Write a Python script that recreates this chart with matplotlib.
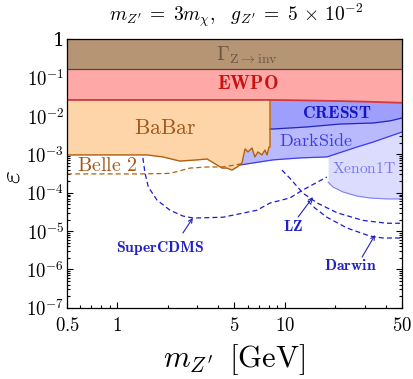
import numpy as np
from matplotlib import pyplot as plt
from matplotlib.ticker import FixedLocator, NullFormatter

plt.rcParams['mathtext.fontset'] = 'cm'
plt.rcParams['font.family'] = 'serif'
plt.rcParams['font.serif'] = ['DejaVu Serif']

# --- limits (epsilon vs m_Z' in GeV) ---
m_range = [0.5, 50.0]
gamma_eps = 0.167

ewpo_m = [0.5, 8.0, 12.0, 20.0, 30.0, 50.0]
ewpo_eps = [0.0264, 0.0264, 0.0258, 0.0248, 0.0238, 0.0222]

babar_m = [0.5, 1.5, 1.87, 2.36, 2.99, 3.43, 3.93, 4.21, 4.51, 4.83, 5.18, 5.54,
           5.78, 6.02, 6.36, 6.62, 6.9, 7.29, 7.6, 7.82, 8.04, 8.15]
babar_eps = [9.7e-4, 9.7e-4, 8.6e-4, 6.7e-4, 7.2e-4, 7.6e-4, 5.3e-4, 4.4e-4, 4.4e-4, 3.9e-4, 4.7e-4, 6.0e-4,
             1.39e-3, 1.16e-3, 1.47e-3, 8.6e-4, 1.16e-3, 9.7e-4, 1.3e-3, 9.7e-4, 1.56e-3, 1.56e-3]

belle2_m = [0.5, 1.37, 2.06, 2.71, 3.43, 4.27, 5.39]
belle2_eps = [3.1e-4, 3.1e-4, 3.2e-4, 4.4e-4, 4.7e-4, 4.7e-4, 5.6e-4]

cresst_m = [8.15, 8.49, 13.5, 21.3, 33.6, 42.4, 50.0]
cresst_eps = [4.6e-3, 4.6e-3, 5.2e-3, 6.2e-3, 6.6e-3, 7.5e-3, 8.9e-3]

darkside_m = [5.39, 8.49, 12.3, 17.8, 26.9, 33.6, 50.0]
darkside_eps = [5.3e-4, 7.2e-4, 8.1e-4, 8.6e-4, 1.56e-3, 2.1e-3, 3.85e-3]

xenon_m = [18.1, 19.4, 22.2, 26.9, 32.2, 40.6, 50.0]
xenon_eps = [1.9e-4, 1.4e-4, 1.05e-4, 8.2e-5, 7.3e-5, 6.9e-5, 6.9e-5]

supercdms_m = [1.42, 1.46, 1.53, 1.72, 2.06, 2.46, 2.82, 2.99, 4.27, 6.81, 8.15, 10.7, 12.8, 17.8]
supercdms_eps = [8.1e-4, 3.3e-4, 1.41e-4, 6.5e-5, 3.5e-5, 2.47e-5, 2.2e-5, 2.2e-5, 2.3e-5, 3.5e-5,
                 5.4e-5, 7.3e-5, 1.18e-4, 2.58e-4]

lz_m = [9.6, 10.7, 12.8, 15.6, 20.5, 29.2, 40.6, 50.0]
lz_eps = [3.9e-4, 2.4e-4, 9.8e-5, 5.4e-5, 3.0e-5, 1.9e-5, 1.6e-5, 1.6e-5]

darwin_m = [13.7, 15.1, 17.8, 23.5, 32.2, 38.5, 50.0]
darwin_eps = [6.1e-5, 4.0e-5, 2.3e-5, 1.2e-5, 7.4e-6, 6.6e-6, 6.6e-6]

x_ticks = [0.5, 1, 5, 10, 50]
x_labels = ['0.5', '1', '5', '10', '50']
y_ticks = [1e-7, 1e-6, 1e-5, 1e-4, 1e-3, 1e-2, 1e-1, 1]
y_labels = [r'$10^{-%d}$' % k for k in range(7, 0, -1)] + ['1']

fig = plt.figure(figsize=(4.14, 3.79), dpi=100)
ax = fig.add_axes([0.1618, 0.188, 0.8092, 0.708])
ax.set_xscale('log')
ax.set_yscale('log')

top = 0.03
ax.fill_between(xenon_m, xenon_eps, top, color='#dcdcfe', lw=0, zorder=1)
ax.fill_between(darkside_m, darkside_eps, top, color='#b9b9fe', lw=0, zorder=2)
ax.fill_between(cresst_m, cresst_eps, top, color='#9e9efd', lw=0, zorder=3)
ax.fill_between(babar_m, babar_eps, top, color='#fed5a8', lw=0, zorder=4)
ax.fill_between(ewpo_m, ewpo_eps, gamma_eps, color='#fea8a8', lw=0, zorder=5)
ax.fill_between(m_range, gamma_eps, 1, color='#b69574', lw=0, zorder=6)

ax.plot(xenon_m, xenon_eps, color='#7d7dfa', lw=0.8, zorder=7)
ax.plot(darkside_m, darkside_eps, color='#3c3cf2', lw=0.9, zorder=7)
ax.plot(cresst_m, cresst_eps, color='#2424c4', lw=0.9, zorder=7)
ax.plot(babar_m + [babar_m[-1]], babar_eps + [ewpo_eps[0]], color='#b0600f', lw=1.0, zorder=8)
ax.plot(ewpo_m, ewpo_eps, color='#d23a3a', lw=1.3, zorder=8)
ax.axhline(gamma_eps, color='#56473a', lw=0.9, zorder=8)

dash = (0, (4, 2.5))
ax.plot(belle2_m, belle2_eps, color='#b0600f', lw=0.9, ls=dash, zorder=9)
for m, e in [(supercdms_m, supercdms_eps), (lz_m, lz_eps), (darwin_m, darwin_eps)]:
    ax.plot(m, e, color='#1c1cce', lw=0.9, ls=dash, zorder=9)

# region names
ax.text(5.94, 0.38, r'$\Gamma_{\mathrm{Z}\to\mathrm{inv}}$', color='#6a5845', fontsize=14.5,
        ha='center', va='center', zorder=10)
ax.text(6.0, 0.069, r'$\mathbf{EWPO}$', color='#c81212', fontsize=14, ha='center', va='center', zorder=10)
ax.text(1.92, 4.75e-3, r'$\mathrm{BaBar}$', color='#a3581b', fontsize=15.5, ha='center', va='center', zorder=10)
ax.text(0.87, 5.0e-4, r'$\mathrm{Belle\ 2}$', color='#a3581b', fontsize=14.5, ha='center', va='center', zorder=10)
ax.text(20.5, 1.2e-2, r'$\mathbf{CRESST}$', color='#1515c8', fontsize=12.5, ha='center', va='center', zorder=10)
ax.text(15.3, 2.24e-3, r'$\mathrm{DarkSide}$', color='#3d3de8', fontsize=13, ha='center', va='center', zorder=10)
ax.text(29.5, 4.2e-4, r'$\mathrm{Xenon1T}$', color='#7a7aee', fontsize=11.2, ha='center', va='center', zorder=10)

# projected-reach labels with arrows
notes = [(r'$\mathbf{SuperCDMS}$', (1.80, 3.6e-6), (2.46, 8.9e-6), (2.82, 2.2e-5)),
         (r'$\mathbf{LZ}$', (11.2, 1.28e-5), (12.0, 2.33e-5), (14.7, 7.7e-5)),
         (r'$\mathbf{Darwin}$', (24.5, 1.3e-6), (28.9, 2.1e-6), (34.5, 7.9e-6))]
for label, pos, start, tip in notes:
    ax.text(*pos, label, color='#2020c4', fontsize=11.3, ha='center', va='center', zorder=10)
    ax.annotate('', xy=tip, xytext=start, zorder=10,
                arrowprops=dict(arrowstyle='->', color='#2020c4', lw=0.8,
                                shrinkA=0, shrinkB=0, mutation_scale=7))

ax.set_xlim(*m_range)
ax.set_ylim(1e-7, 1)
ax.set_xticks(x_ticks, [r'$%s$' % s for s in x_labels])
ax.xaxis.set_minor_locator(FixedLocator([0.6, 0.7, 0.8, 0.9, 2, 3, 4, 6, 7, 8, 9, 20, 30, 40]))
ax.xaxis.set_minor_formatter(NullFormatter())
ax.set_yticks(y_ticks, y_labels)
ax.yaxis.set_minor_locator(FixedLocator([k * 10.0 ** d for d in range(-7, 0) for k in range(2, 10)]))
ax.yaxis.set_minor_formatter(NullFormatter())
ax.tick_params(which='both', direction='in', top=True, right=True, width=0.8, labelsize=13.5)
ax.tick_params(which='major', length=4)
ax.tick_params(which='minor', length=2)
ax.tick_params(axis='x', pad=7)
ax.tick_params(axis='y', pad=2)
for s in ax.spines.values():
    s.set_linewidth(0.9)
    s.set_zorder(12)

fig.text(0.57, 0.960, r"$m_{Z'}\;=\;3m_\chi,\;\;\,g_{Z'}\;=\;5\,\times\,10^{-2}$", fontsize=14, ha='center', va='center')
fig.text(0.566, 0.052, r"$m_{Z'}\;\;[\mathrm{GeV}]$", fontsize=22, ha='center', va='center')
fig.text(0.029, 0.533, r'$\varepsilon$', fontsize=20, ha='center', va='center', rotation=90)

fig.savefig('out.png', dpi=100)
